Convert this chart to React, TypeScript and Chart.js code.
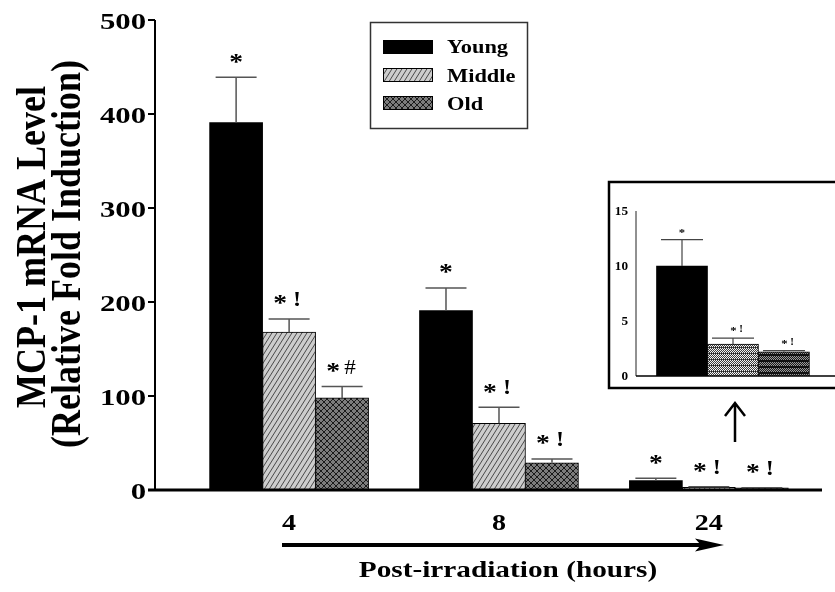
import React, { useEffect, useRef } from 'react';
import { Chart, registerables } from 'chart.js';
Chart.register(...registerables);

// ---------- data ----------
const timepoints = ['4', '8', '24'];
const groupIndex = [0, 1, 2];
const seriesNames = ['Young', 'Middle', 'Old'];
const youngMean = [391, 191, 10];
const youngErr = [439, 215, 12.4];
const middleMean = [168, 71, 2.9];
const middleErr = [182, 88, 3.45];
const oldMean = [98, 29, 2.2];
const oldErr = [110, 33, 2.3];
const youngMarks = ['*', '*', '*'];
const middleMarks = ['*!', '*!', '*!'];
const oldMarks = ['*#', '*!', '*!'];
const yTicks = [0, 100, 200, 300, 400, 500];
const insetTicks = [0, 5, 10, 15];
const insetGroup = 2; // the 24 h group is magnified in the inset
const yTitle1 = 'MCP-1 mRNA Level';
const yTitle2 = '(Relative Fold Induction)';
const xTitle = 'Post-irradiation (hours)';

const means = [youngMean, middleMean, oldMean];
const errs = [youngErr, middleErr, oldErr];
const marks = [youngMarks, middleMarks, oldMarks];

const SERIF = "'Liberation Serif'";

function sText(ctx: CanvasRenderingContext2D, text: string, x: number, y: number, font: string, align: CanvasTextAlign, sx: number) {
  ctx.save();
  ctx.font = font;
  ctx.fillStyle = '#000';
  ctx.textAlign = align;
  ctx.textBaseline = 'alphabetic';
  ctx.translate(x, y);
  ctx.scale(sx, 1);
  ctx.fillText(text, 0, 0);
  ctx.restore();
}

function vText(ctx: CanvasRenderingContext2D, text: string, x: number, y: number, font: string, sy: number) {
  ctx.save();
  ctx.font = font;
  ctx.fillStyle = '#000';
  ctx.textAlign = 'center';
  ctx.textBaseline = 'alphabetic';
  ctx.translate(x, y);
  ctx.rotate(-Math.PI / 2);
  ctx.scale(1, sy);
  ctx.fillText(text, 0, 0);
  ctx.restore();
}

function makeTile(w: number, h: number, draw: (c: CanvasRenderingContext2D) => void): CanvasPattern {
  const t = document.createElement('canvas');
  t.width = w; t.height = h;
  const c = t.getContext('2d')!;
  draw(c);
  const host = document.createElement('canvas').getContext('2d')!;
  return host.createPattern(t, 'repeat')!;
}

function hatchPattern() {
  return makeTile(5, 8, (c) => {
    c.fillStyle = '#cdcdcd';
    c.fillRect(0, 0, 5, 8);
    c.strokeStyle = '#3a3a3a';
    c.lineWidth = 0.9;
    for (const k of [-1, 0, 1]) {
      c.beginPath();
      c.moveTo(k * 5, 8);
      c.lineTo(k * 5 + 5, 0);
      c.stroke();
    }
  });
}

function crossPattern() {
  return makeTile(6, 6, (c) => {
    c.fillStyle = '#7c7c7c';
    c.fillRect(0, 0, 6, 6);
    c.strokeStyle = '#1a1a1a';
    c.lineWidth = 1;
    for (const k of [-1, 0, 1]) {
      c.beginPath();
      c.moveTo(k * 6, 6); c.lineTo(k * 6 + 6, 0);
      c.moveTo(k * 6, 0); c.lineTo(k * 6 + 6, 6);
      c.stroke();
    }
  });
}

function ditherLight() {
  return makeTile(4, 6, (c) => {
    for (let j = 0; j < 6; j++) for (let i = 0; i < 4; i++) {
      c.fillStyle = j === 5 ? ((i % 2) ? '#555' : '#222') : ((i + j) % 2 ? '#f4f4f4' : '#3c3c3c');
      c.fillRect(i, j, 1, 1);
    }
  });
}

function ditherDark() {
  return makeTile(4, 6, (c) => {
    for (let j = 0; j < 6; j++) for (let i = 0; i < 4; i++) {
      c.fillStyle = j < 2 ? '#111' : ((i + j) % 2 ? '#9a9a9a' : '#1c1c1c');
      c.fillRect(i, j, 1, 1);
    }
  });
}

function drawMark(ctx: CanvasRenderingContext2D, mark: string, cx: number, capY: number, scale: number) {
  const starFont = `bold ${Math.round(24 * scale)}px ${SERIF}`;
  const symFont = `bold ${Math.round(22 * scale)}px ${SERIF}`;
  const symFontReg = `${Math.round(21 * scale)}px ${SERIF}`;
  const starBase = capY - (19 - 10.5) * scale;
  const symBase = capY - 13 * scale;
  if (mark === '*') {
    sText(ctx, '*', cx, starBase, starFont, 'center', 1.15);
  } else {
    sText(ctx, '*', cx - 9 * scale, starBase, starFont, 'center', 1.15);
    const sym = mark.slice(1);
    sText(ctx, sym, cx + 8 * scale, symBase, sym === '#' ? symFontReg : symFont, 'center', 1.1);
  }
}

export default function App() {
  const mainRef = useRef<HTMLCanvasElement>(null);
  const insetRef = useRef<HTMLCanvasElement>(null);

  useEffect(() => {
    const fills = ['#000000', hatchPattern(), crossPattern()];
    const insetFills = ['#000000', ditherLight(), ditherDark()];

    const mainDecor = {
      id: 'mainDecor',
      afterDatasetsDraw(chart: any) {
        const ctx: CanvasRenderingContext2D = chart.ctx;
        const ca = chart.chartArea;
        const ys = chart.scales.y;
        const xs = chart.scales.x;
        ctx.save();
        ctx.strokeStyle = '#555';
        ctx.lineWidth = 1.5;
        for (let d = 0; d < 3; d++) {
          const meta = chart.getDatasetMeta(d);
          meta.data.forEach((el: any, i: number) => {
            const ey = ys.getPixelForValue(errs[d][i]);
            ctx.strokeStyle = '#555';
            ctx.lineWidth = 1.5;
            ctx.beginPath();
            ctx.moveTo(el.x, el.y);
            ctx.lineTo(el.x, ey);
            ctx.moveTo(el.x - 20.5, ey);
            ctx.lineTo(el.x + 20.5, ey);
            ctx.stroke();
            drawMark(ctx, marks[d][i], el.x, ey, 1);
          });
        }
        ctx.strokeStyle = '#000';
        ctx.lineWidth = 2;
        ctx.beginPath();
        ctx.moveTo(ca.left, ca.top);
        ctx.lineTo(ca.left, ca.bottom);
        yTicks.forEach((t) => {
          const py = ys.getPixelForValue(t);
          ctx.moveTo(ca.left - 7, py);
          ctx.lineTo(ca.left, py);
        });
        ctx.stroke();
        ctx.lineWidth = 3;
        ctx.beginPath();
        ctx.moveTo(ca.left - 7, ca.bottom);
        ctx.lineTo(ca.right, ca.bottom);
        ctx.stroke();
        yTicks.forEach((t) => {
          sText(ctx, String(t), ca.left - 9, ys.getPixelForValue(t) + 8.5, `bold 24px ${SERIF}`, 'right', 1.28);
        });
        timepoints.forEach((lab, i) => {
          sText(ctx, lab, xs.getPixelForValue(groupIndex[i]), ca.bottom + 40, `bold 23px ${SERIF}`, 'center', 1.22);
        });
        vText(ctx, yTitle1, 45, 247, `bold 36px ${SERIF}`, 1.2);
        vText(ctx, yTitle2, 80, 254, `bold 36px ${SERIF}`, 1.15);
        sText(ctx, xTitle, 508, 577, `bold 24px ${SERIF}`, 'center', 1.22);
        ctx.fillStyle = '#000';
        ctx.strokeStyle = '#000';
        ctx.lineWidth = 4;
        ctx.beginPath();
        ctx.moveTo(282, 545);
        ctx.lineTo(702, 545);
        ctx.stroke();
        ctx.beginPath();
        ctx.moveTo(724, 545);
        ctx.lineTo(695, 538.5);
        ctx.lineTo(701, 545);
        ctx.lineTo(695, 551.5);
        ctx.closePath();
        ctx.fill();
        ctx.lineWidth = 2.5;
        ctx.beginPath();
        ctx.moveTo(735, 442);
        ctx.lineTo(735, 404);
        ctx.moveTo(725, 416);
        ctx.lineTo(735, 403);
        ctx.lineTo(745, 416);
        ctx.stroke();
        ctx.strokeStyle = '#333';
        ctx.lineWidth = 1.5;
        ctx.strokeRect(370.5, 22.5, 157, 106);
        const sw = [40, 68, 96];
        const base = [53, 82, 110];
        seriesNames.forEach((n, i) => {
          ctx.fillStyle = fills[i] as any;
          ctx.fillRect(383, sw[i], 50, 14);
          ctx.strokeStyle = '#000';
          ctx.lineWidth = 1;
          ctx.strokeRect(383.5, sw[i] + 0.5, 49, 13);
          sText(ctx, n, 447, base[i], `bold 19px ${SERIF}`, 'left', 1.18);
        });
        ctx.restore();
      },
    };

    const insetDecor = {
      id: 'insetDecor',
      beforeDraw(chart: any) {
        const ctx: CanvasRenderingContext2D = chart.ctx;
        ctx.save();
        ctx.fillStyle = '#fff';
        ctx.fillRect(0, 0, chart.width, chart.height);
        ctx.strokeStyle = '#000';
        ctx.lineWidth = 2.5;
        ctx.strokeRect(2, 2, 400, 206);
        ctx.restore();
      },
      afterDatasetsDraw(chart: any) {
        const ctx: CanvasRenderingContext2D = chart.ctx;
        const ca = chart.chartArea;
        const ys = chart.scales.y;
        ctx.save();
        for (let d = 0; d < 3; d++) {
          const el: any = chart.getDatasetMeta(d).data[0];
          const ey = ys.getPixelForValue(errs[d][insetGroup]);
          ctx.strokeStyle = '#444';
          ctx.lineWidth = 1.2;
          ctx.beginPath();
          ctx.moveTo(el.x, el.y);
          ctx.lineTo(el.x, ey);
          ctx.moveTo(el.x - 21, ey);
          ctx.lineTo(el.x + 21, ey);
          ctx.stroke();
          drawMark(ctx, marks[d][insetGroup], el.x + (d === 0 ? 0 : 4.5), ey, 0.45);
        }
        ctx.strokeStyle = '#222';
        ctx.lineWidth = 1;
        ctx.beginPath();
        ctx.moveTo(ca.left, ca.top);
        ctx.lineTo(ca.left, ca.bottom);
        ctx.stroke();
        ctx.strokeStyle = '#000';
        ctx.lineWidth = 1.6;
        ctx.beginPath();
        ctx.moveTo(ca.left, ca.bottom);
        ctx.lineTo(chart.width, ca.bottom);
        ctx.stroke();
        insetTicks.forEach((t) => {
          sText(ctx, String(t), ca.left - 8, ys.getPixelForValue(t) + 4, `bold 12px ${SERIF}`, 'right', 1.1);
        });
        ctx.restore();
      },
    };

    let main: Chart | null = null;
    let inset: Chart | null = null;
    let cancelled = false;

    const build = () => {
      if (cancelled) return;
      main = new Chart(mainRef.current!, {
        type: 'bar',
        data: {
          datasets: seriesNames.map((n, d) => ({
            label: n,
            data: groupIndex.map((x, i) => ({ x, y: means[d][i] })),
            backgroundColor: fills[d] as any,
            borderColor: '#000',
            borderWidth: d === 0 ? 0 : 1,
            barThickness: 53,
          })),
        },
        options: {
          responsive: false,
          animation: false,
          devicePixelRatio: 1,
          layout: { padding: { left: 155, right: 13, top: 20, bottom: 102 } },
          plugins: { legend: { display: false }, tooltip: { enabled: false } },
          scales: {
            x: {
              type: 'linear', min: -0.639, max: 2.539, offset: false,
              grid: { display: false }, border: { display: false }, ticks: { display: false },
              afterFit: (s: any) => { s.height = 0; },
            },
            y: {
              type: 'linear', min: 0, max: 500,
              grid: { display: false }, border: { display: false }, ticks: { display: false },
              afterFit: (s: any) => { s.width = 0; },
            },
          },
        } as any,
        plugins: [mainDecor],
      });

      inset = new Chart(insetRef.current!, {
        type: 'bar',
        data: {
          datasets: seriesNames.map((n, d) => ({
            label: n,
            data: [{ x: 0, y: means[d][insetGroup] }],
            backgroundColor: insetFills[d] as any,
            borderColor: '#000',
            borderWidth: d === 0 ? 0 : 1,
            barThickness: 51,
          })),
        },
        options: {
          responsive: false,
          animation: false,
          devicePixelRatio: 1,
          layout: { padding: { left: 29, right: 0, top: 31, bottom: 14 } },
          plugins: { legend: { display: false }, tooltip: { enabled: false } },
          scales: {
            x: {
              type: 'linear', min: -0.97, max: 1.02, offset: false,
              grid: { display: false }, border: { display: false }, ticks: { display: false },
              afterFit: (s: any) => { s.height = 0; },
            },
            y: {
              type: 'linear', min: 0, max: 15,
              grid: { display: false }, border: { display: false }, ticks: { display: false },
              afterFit: (s: any) => { s.width = 0; },
            },
          },
        } as any,
        plugins: [insetDecor],
      });
    };

    const fontsToLoad = [`bold 24px ${SERIF}`, `24px ${SERIF}`];
    Promise.all(fontsToLoad.map((f) => (document as any).fonts.load(f).catch(() => null)))
      .then(() => build(), () => build());

    return () => {
      cancelled = true;
      if (main) main.destroy();
      if (inset) inset.destroy();
    };
  }, []);

  return (
    <div style={{ position: 'fixed', left: 0, top: 0, width: 835, height: 592, background: '#fff', overflow: 'hidden' }}>
      <span style={{ position: 'absolute', left: -1000, top: 0, fontFamily: "'Liberation Serif'", fontWeight: 'bold' }}>Aa</span>
      <canvas ref={mainRef} width={835} height={592} style={{ position: 'absolute', left: 0, top: 0, display: 'block' }} />
      <canvas ref={insetRef} width={228} height={210} style={{ position: 'absolute', left: 607, top: 180, display: 'block' }} />
    </div>
  );
}
